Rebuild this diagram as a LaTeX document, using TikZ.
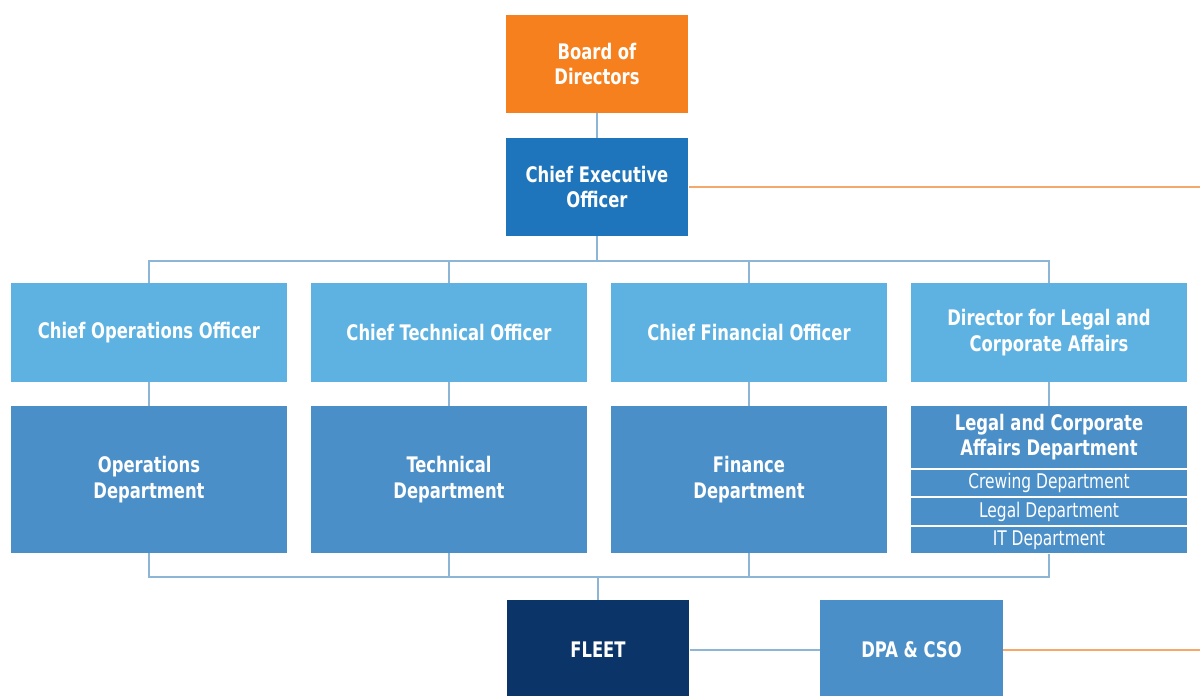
\documentclass[tikz,border=0pt]{standalone}
\usepackage{fontspec}
\newfontfamily\boxfont{DejaVu Sans Condensed}[FakeStretch=0.85]
\usetikzlibrary{calc,positioning}
\definecolor{bdorange}{HTML}{F7801E}
\definecolor{ceoblue}{HTML}{1E75BB}
\definecolor{offblue}{HTML}{5DB2E2}
\definecolor{deptblue}{HTML}{4B8FC9}
\definecolor{fleetblue}{HTML}{0B3468}
\definecolor{linkblue}{HTML}{8DB5D5}
\definecolor{linkorange}{HTML}{F5A86A}
\tikzset{
  box/.style={minimum width=5.52cm,inner sep=0pt,align=center,text=white,
    font=\boxfont\bfseries\fontsize{12.2}{14.6}\selectfont},
  topbox/.style={box,minimum width=3.66cm,minimum height=1.96cm},
  offbox/.style={box,fill=offblue,minimum height=1.98cm},
  deptbox/.style={box,fill=deptblue,minimum height=2.94cm},
  subbox/.style={box,fill=deptblue,minimum height=0.53cm,
    font=\boxfont\fontsize{11.5}{13}\selectfont},
  link/.style={draw=linkblue,line width=0.8pt},
  olink/.style={draw=linkorange,line width=0.8pt}
}

\begin{document}
\begin{tikzpicture}[x=0.02cm,y=-0.02cm]
  \useasboundingbox (0,0) rectangle (1200,696);
  % top of the chart
  \node[topbox,fill=bdorange] (board) at (597,64) {Board of\\Directors};
  \node[topbox,fill=ceoblue] (ceo) at (597,187) {Chief Executive\\Officer};
  % officers
  \node[offbox] (coo) at (149,332.5) {Chief Operations Officer};
  \node[offbox] (cto) at (449,332.5) {Chief Technical Officer};
  \node[offbox] (cfo) at (749,332.5) {Chief Financial Officer};
  \node[offbox] (dla) at (1049,332.5) {Director for Legal and\\Corporate Affairs};
  % departments
  \node[deptbox] (opd) at (149,479.5) {Operations\\Department};
  \node[deptbox] (ted) at (449,479.5) {Technical\\Department};
  \node[deptbox] (fid) at (749,479.5) {Finance\\Department};
  \node[box,fill=deptblue,minimum height=1.24cm] (lcd) at (1049,437) {Legal and Corporate\\Affairs Department};
  \node[subbox] (crew) at (1049,483) {Crewing Department};
  \node[subbox] (legal) at (1049,511.5) {Legal Department};
  \node[subbox] (itd) at (1049,540) {IT Department};
  % bottom
  \node[topbox,fill=fleetblue,minimum height=2cm] (fleet) at (598,650) {FLEET};
  \node[topbox,fill=deptblue,minimum height=2cm] (dpa) at (911.5,650) {DPA \& CSO};
  \coordinate (bustop) at (597,261);
  \coordinate (busbot) at (598,577);
  \coordinate (ceoend) at (1200,187);
  \coordinate (dpaend) at (1200,650);

  \draw[link] (board) -- (ceo);
  \draw[link] (ceo.south) -- (bustop);
  \draw[link] (coo.north) |- (bustop) -| (dla.north);
  \draw[link] (cto.north) -- (cto.north |- bustop);
  \draw[link] (cfo.north) -- (cfo.north |- bustop);
  \draw[link] (coo) -- (opd);
  \draw[link] (cto) -- (ted);
  \draw[link] (cfo) -- (fid);
  \draw[link] (dla) -- (lcd);
  \draw[link] (opd.south) |- (busbot) -| (itd.south);
  \draw[link] (ted.south) -- (ted.south |- busbot);
  \draw[link] (fid.south) -- (fid.south |- busbot);
  \draw[link] (busbot) -- (fleet.north);
  \draw[link] (fleet) -- (dpa);
  \draw[olink] (ceo) -- (ceoend);
  \draw[olink] (dpa) -- (dpaend);
\end{tikzpicture}
\end{document}
